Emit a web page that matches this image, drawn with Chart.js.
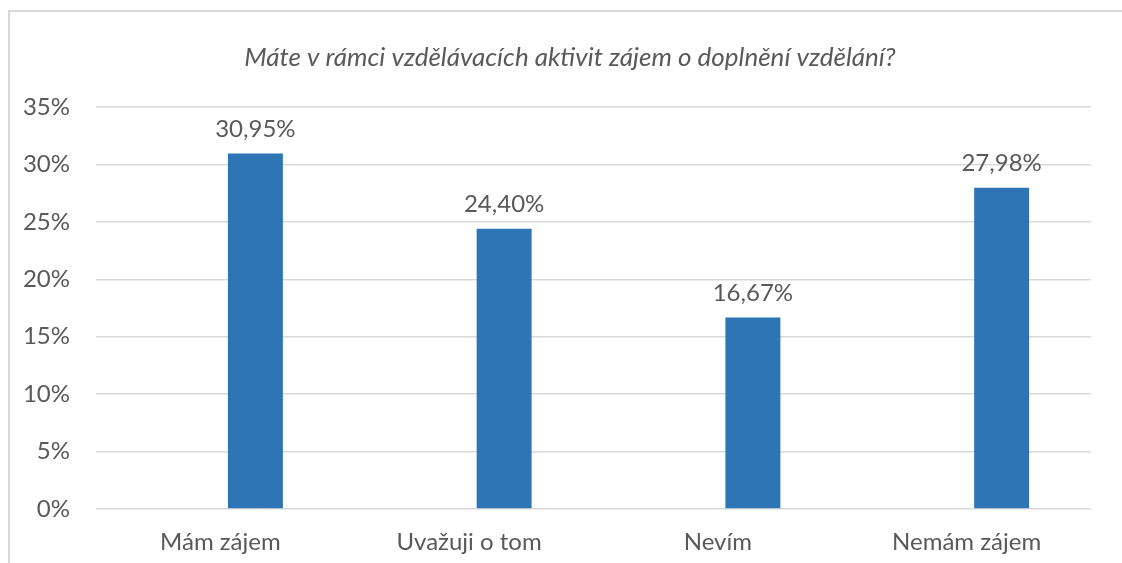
<!DOCTYPE html>
<html lang="cs">
<head>
<meta charset="utf-8">
<title>Zájem o doplnění vzdělání</title>
<script src="https://cdn.jsdelivr.net/npm/chart.js@4/dist/chart.umd.min.js"></script>
<style>
  html, body { margin: 0; padding: 0; background: #fff; overflow: hidden; }
  #wrap { position: relative; width: 1122px; height: 563px; }
  #frame {
    position: absolute; left: 8px; top: 10px; width: 1300px; height: 700px;
    border: 2px solid #d9d9d9; box-sizing: border-box;
  }
  canvas { position: absolute; left: 0; top: 0; }
</style>
</head>
<body>
<div id="wrap">
  <div id="frame"></div>
  <canvas id="chart" width="1122" height="563"></canvas>
</div>
<script>
// data
const chartTitle = "Máte v rámci vzdělávacích aktivit zájem o doplnění vzdělání?";
const categories = ["Mám zájem", "Uvažuji o tom", "Nevím", "Nemám zájem"];
const shares = [30.95, 24.40, 16.67, 27.98];
// the source chart has an empty first series, so the bars sit right of centre
const emptySeries = [null, null, null, null];
const yTicks = [0, 5, 10, 15, 20, 25, 30, 35];

const textGrey = "#595959";
const fontFamily = "Lato, 'Open Sans', sans-serif";

// labels above the bars, Czech decimal comma
const valueLabels = {
  id: "valueLabels",
  afterDatasetsDraw(chart) {
    const ctx = chart.ctx;
    const meta = chart.getDatasetMeta(1);
    ctx.save();
    ctx.fillStyle = textGrey;
    ctx.font = "24px " + fontFamily;
    ctx.textAlign = "center";
    ctx.textBaseline = "alphabetic";
    meta.data.forEach((bar, i) => {
      const txt = shares[i].toFixed(2).replace(".", ",") + "%";
      ctx.fillText(txt, bar.x, bar.y - 17);
    });
    ctx.restore();
  }
};

// title is centred on the (cropped) outer frame, not on the canvas
const frameTitle = {
  id: "frameTitle",
  afterDraw(chart) {
    const ctx = chart.ctx;
    ctx.save();
    ctx.fillStyle = textGrey;
    ctx.font = "italic 26px " + fontFamily;
    ctx.textAlign = "center";
    ctx.textBaseline = "middle";
    ctx.fillText(chartTitle, chart.width / 2 + 9, 58);
    ctx.restore();
  }
};

new Chart(document.getElementById("chart"), {
  type: "bar",
  data: {
    labels: categories,
    datasets: [
      { data: emptySeries, backgroundColor: "#ed7d31" },
      { data: shares, backgroundColor: "#2e75b6" }
    ]
  },
  options: {
    responsive: false,
    animation: false,
    events: [],
    datasets: { bar: { categoryPercentage: 0.563, barPercentage: 0.785 } },
    layout: { padding: { left: 0, right: 31, top: 107, bottom: 0 } },
    plugins: {
      legend: { display: false },
      tooltip: { enabled: false },
      title: { display: false }
    },
    scales: {
      x: {
        afterFit(scale) { scale.height = 54; },
        grid: { display: false, drawTicks: false },
        border: { display: false },
        ticks: { color: textGrey, font: { family: fontFamily, size: 24 }, padding: 19 }
      },
      y: {
        min: 0,
        max: 35,
        afterFit(scale) { scale.width = 96; },
        afterBuildTicks(scale) { scale.ticks = yTicks.map(v => ({ value: v })); },
        grid: { color: "#d9d9d9", lineWidth: 1.5, drawTicks: false },
        border: { display: false },
        ticks: {
          color: textGrey,
          font: { family: fontFamily, size: 24 },
          padding: 26,
          callback: v => v + "%"
        }
      }
    }
  },
  plugins: [valueLabels, frameTitle]
});
</script>
</body>
</html>
